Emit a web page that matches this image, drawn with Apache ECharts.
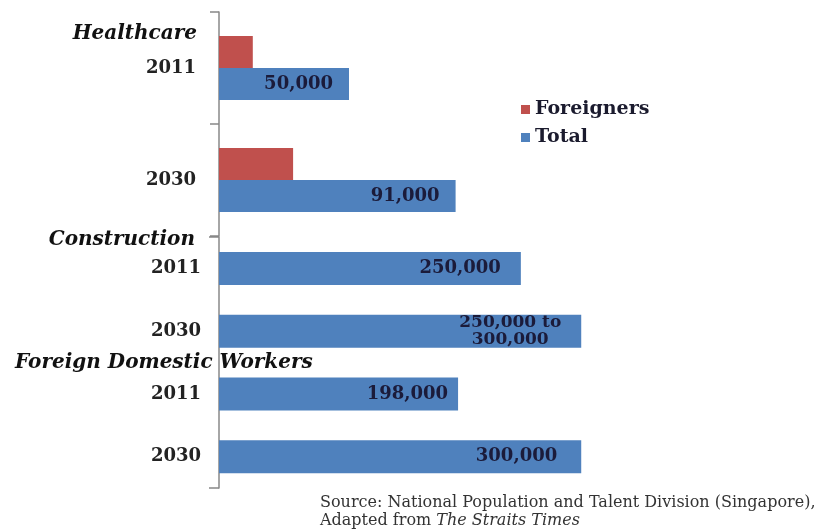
<!DOCTYPE html>
<html>
<head>
<meta charset="utf-8">
<script src="https://cdn.jsdelivr.net/npm/echarts@6/dist/echarts.min.js"></script>
<style>html,body{margin:0;padding:0;background:#fff;}#c{width:820px;height:531px;}</style>
</head>
<body>
<div id="c"></div>
<script>
const topCategories = ['2011', '2030'];
const bottomCategories = ['2011', '2030', '2011', '2030'];
const healthcareForeigners = [13000, 28500];
const healthcareTotal = [50000, 91000];
const bottomTotal = [250000, 300000, 198000, 300000];
const healthcareLabels = ['50,000', '91,000'];
const bottomLabels = ['250,000', '250,000 to\n300,000', '198,000', '300,000'];
const groupHeaders = ['Healthcare', 'Construction', 'Foreign Domestic Workers'];
const seriesNames = ['Foreigners', 'Total'];

const SERIF = '"DejaVu Serif", "Liberation Serif", serif';
const RED = '#C0504D', BLUE = '#4F81BD';
const LABEL_COLOR = '#1b1b3a';

const chart = echarts.init(document.getElementById('c'));

const headerStyle = {fontFamily: SERIF, fontWeight: 'bold', fontStyle: 'italic', fontSize: 20, color: '#111'};

const bottomLabelTweaks = [
  null,
  {align: 'center', distance: 71, fontSize: 17, lineHeight: 17},
  {distance: 10},
  {distance: 24}
];

const option = {
  backgroundColor: '#fff',
  animation: false,
  title: [
    {text: groupHeaders[0], right: 623, top: 24, padding: 0, textStyle: headerStyle},
    {text: groupHeaders[1], right: 625, top: 230, padding: 0, textStyle: headerStyle},
    {text: groupHeaders[2], left: 15, top: 353, padding: 0, textStyle: headerStyle},
    {
      text: 'Source: National Population and Talent Division (Singapore),\nAdapted from {i|The Straits Times}',
      left: 320, top: 494, padding: 0,
      textStyle: {
        fontFamily: SERIF, fontSize: 16, fontWeight: 'normal', color: '#333', lineHeight: 18,
        rich: {i: {fontFamily: SERIF, fontSize: 16, fontStyle: 'italic', color: '#333', lineHeight: 18}}
      }
    }
  ],
  legend: {
    data: seriesNames,
    orient: 'vertical',
    left: 521, top: 100, padding: 0,
    itemWidth: 9, itemHeight: 9, itemGap: 9,
    icon: 'rect',
    textStyle: {fontFamily: SERIF, fontWeight: 'bold', fontSize: 19, color: '#1b1b2e'}
  },
  grid: [
    {left: 219, top: 12, width: 390, height: 224},
    {left: 219, top: 237, width: 390, height: 251}
  ],
  xAxis: [
    {type: 'value', gridIndex: 0, min: 0, max: 150000, show: false},
    {type: 'value', gridIndex: 1, min: 0, max: 323000, show: false}
  ],
  yAxis: [
    {
      type: 'category', gridIndex: 0, data: topCategories, inverse: true,
      axisLine: {lineStyle: {color: '#888', width: 1.5}},
      axisTick: {show: true, length: 9, lineStyle: {color: '#888', width: 1.5}},
      axisLabel: {margin: 23, fontFamily: SERIF, fontWeight: 'bold', fontSize: 18, color: '#222', interval: 0}
    },
    {
      type: 'category', gridIndex: 1, data: bottomCategories, inverse: true,
      axisLine: {lineStyle: {color: '#888', width: 1.5}},
      axisTick: {show: true, length: 10, interval: function (i) { return i === 0; }, lineStyle: {color: '#888', width: 1.5}},
      axisLabel: {margin: 18, fontFamily: SERIF, fontWeight: 'bold', fontSize: 18, color: '#222', interval: 0}
    }
  ],
  series: [
    {
      name: seriesNames[0], type: 'bar', xAxisIndex: 0, yAxisIndex: 0,
      data: healthcareForeigners, barWidth: 32, barGap: '0%',
      itemStyle: {color: RED}
    },
    {
      name: seriesNames[1], type: 'bar', xAxisIndex: 0, yAxisIndex: 0,
      data: healthcareTotal, barWidth: 32, barGap: '0%',
      itemStyle: {color: BLUE},
      label: {
        show: true, position: 'insideRight', distance: 16,
        fontFamily: SERIF, fontWeight: 'bold', fontSize: 18, color: LABEL_COLOR,
        formatter: function (p) { return healthcareLabels[p.dataIndex]; }
      }
    },
    {
      name: seriesNames[1], type: 'bar', xAxisIndex: 1, yAxisIndex: 1,
      data: bottomTotal.map(function (v, i) {
        return bottomLabelTweaks[i] ? {value: v, label: bottomLabelTweaks[i]} : v;
      }),
      barWidth: 33,
      itemStyle: {color: BLUE},
      label: {
        show: true, position: 'insideRight', distance: 20,
        fontFamily: SERIF, fontWeight: 'bold', fontSize: 18, color: LABEL_COLOR,
        formatter: function (p) { return bottomLabels[p.dataIndex]; }
      }
    }
  ]
};
chart.setOption(option);
</script>
</body>
</html>
